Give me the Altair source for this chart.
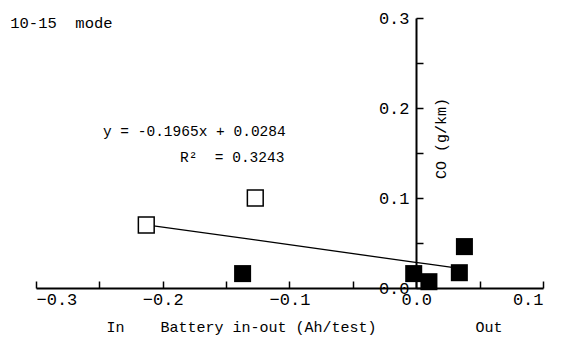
import altair as alt
import pandas as pd

# ---- data ----
battery_x = [-0.213, -0.127, -0.137, -0.002, 0.010, 0.034, 0.038]
co_y = [0.070, 0.100, 0.016, 0.016, 0.007, 0.017, 0.046]
is_filled = [False, False, True, True, True, True, True]

slope = -0.1965
intercept = 0.0284
NB = "\u00a0"
eq_lines = ["y = -0.1965x + 0.0284", "R²" + NB + NB + "=" + NB + "0.3243"]
eq_x = [-0.103, -0.104]
eq_y = [0.173, 0.145]

x_major = [-0.3, -0.2, -0.1, 0.0, 0.1]
x_ticks = [-0.3, -0.25, -0.2, -0.15, -0.1, -0.05, 0.0, 0.05, 0.1]
y_major = [0.0, 0.1, 0.2, 0.3]
y_ticks = [0.0, 0.05, 0.1, 0.15, 0.2, 0.25, 0.3]

x_title = "In" + NB * 4 + "Battery" + NB + "in-out" + NB + "(Ah/test)" + NB * 11 + "Out"

df = pd.DataFrame({"x": battery_x, "y": co_y, "filled": is_filled})
eq_df = pd.DataFrame({"line": eq_lines, "x": eq_x, "y": eq_y})

FONT = "Liberation Mono"
W, H = 507, 270

xs = alt.Scale(domain=[-0.3, 0.1], nice=False, zero=False)
ys = alt.Scale(domain=[0, 0.3], nice=False, zero=False)

base = alt.Chart(df)

# trend line layer: carries the axis lines and the ticks (crossing at origin)
line = base.transform_calculate(
    fit=f"{slope} * datum.x + {intercept}"
).mark_line(color="black", strokeWidth=1.3).encode(
    x=alt.X("x:Q", scale=xs, axis=alt.Axis(
        orient="top", offset=-H, values=x_ticks, labels=False, title=None,
        grid=False, domainColor="black", domainWidth=2, tickColor="black",
        tickWidth=1.5, tickSize=7)),
    y=alt.Y("fit:Q", scale=ys, axis=alt.Axis(
        orient="right", offset=-(W - 380), values=y_ticks, labels=False,
        grid=False, domainColor="black", domainWidth=2, tickColor="black",
        tickWidth=1.5, tickSize=7,
        title="CO" + NB + "(g/km)", titleAngle=270, titleFont=FONT,
        titleFontSize=15, titleFontWeight="normal", titleColor="black",
        titleX=24, titleY=120, titleAlign="center",
        titleBaseline="middle")),
    order="x:Q",
)

# filled squares layer: carries the tick labels and the x title
filled_pts = base.transform_filter("datum.filled").mark_square(
    size=290, color="black", opacity=1
).encode(
    x=alt.X("x:Q", scale=xs, axis=alt.Axis(
        orient="bottom", values=x_major, format=".1f", tickSize=0, domain=False,
        grid=False, labelFont=FONT, labelFontSize=17, labelColor="black",
        labelPadding=3, title=x_title,
        titleFont=FONT, titleFontSize=15, titleFontWeight="normal",
        titleColor="black", titlePadding=12, titleX=268, titleAlign="center")),
    y=alt.Y("y:Q", scale=ys, axis=alt.Axis(
        orient="left", offset=-380, values=y_major, format=".1f",
        tickSize=0, domain=False, grid=False, labelFont=FONT, labelFontSize=17,
        labelColor="black", labelPadding=7, title=None)),
)

open_pts = base.transform_filter("!datum.filled").mark_point(
    shape="square", size=250, filled=True, fill="white", stroke="black",
    strokeWidth=1.5, opacity=1
).encode(
    x=alt.X("x:Q", scale=xs, axis=None),
    y=alt.Y("y:Q", scale=ys, axis=None),
)

eq_text = alt.Chart(eq_df).mark_text(
    font=FONT, fontSize=14.5, color="black", align="right", baseline="middle"
).encode(
    x=alt.X("x:Q", scale=xs, axis=None),
    y=alt.Y("y:Q", scale=ys, axis=None),
    text="line:N",
)

chart = alt.layer(line, filled_pts, open_pts, eq_text).resolve_axis(
    x="independent", y="independent"
).properties(
    width=W, height=H,
    autosize=alt.AutoSizeParams(type="none"),
    padding={"left": 36, "top": 18, "right": 26, "bottom": 73},
    title=alt.TitleParams("10-15" + NB + NB + "mode", anchor="start",
                          orient="top", font=FONT, fontSize=15.5,
                          fontWeight="normal", color="black", dx=-25, dy=22,
                          offset=0),
).configure_view(stroke=None)

chart.save("out.html", embed_options={"renderer": "svg", "actions": False})
